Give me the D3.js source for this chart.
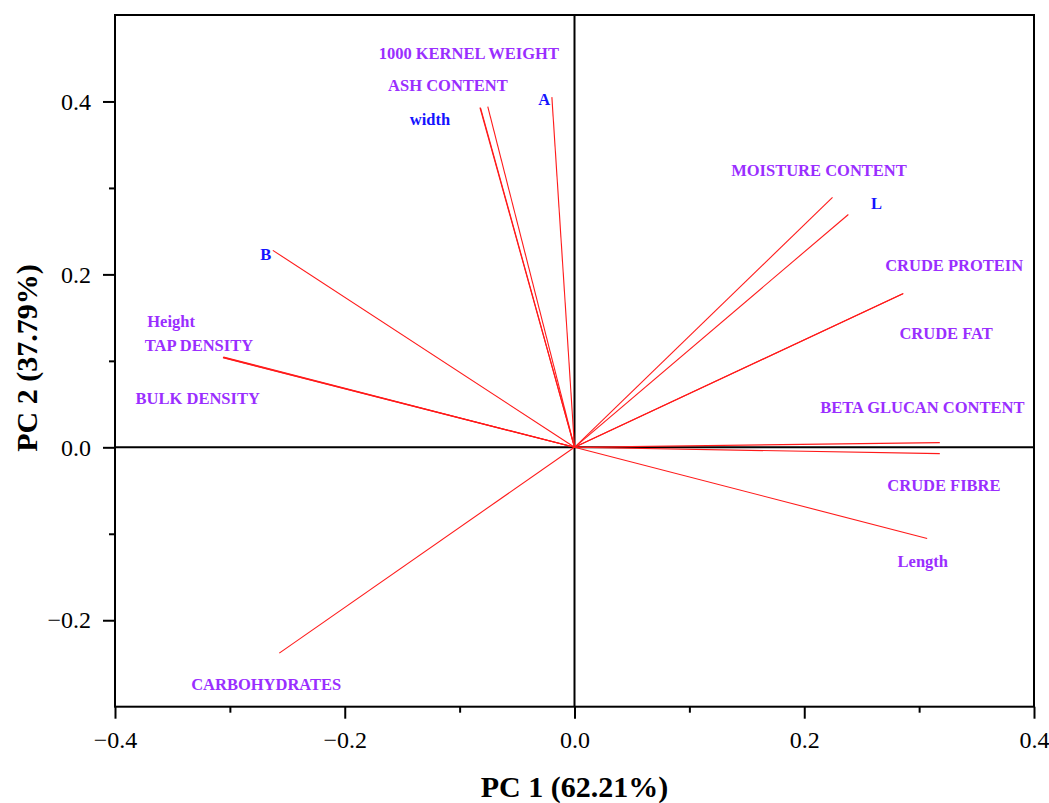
<!DOCTYPE html>
<html>
<head>
<meta charset="utf-8">
<script src="https://cdn.jsdelivr.net/npm/d3@7"></script>
<style>
  html, body { margin: 0; padding: 0; background: #fff; }
  svg { display: block; }
</style>
</head>
<body>
<svg id="chart" width="1049" height="803"></svg>
<script>
// ---- Data (loadings) ----
const variables = ["A", "1000 KERNEL WEIGHT", "width", "ASH CONTENT", "B",
  "Height", "TAP DENSITY", "BULK DENSITY", "CARBOHYDRATES",
  "MOISTURE CONTENT", "L", "CRUDE PROTEIN", "CRUDE FAT",
  "BETA GLUCAN CONTENT", "CRUDE FIBRE", "Length"];
const pc1 = [-0.0197, -0.0823, -0.0818, -0.0755, -0.2626,
  -0.306, -0.3055, -0.306, -0.257,
  0.2246, 0.2384, 0.2863, 0.2858,
  0.318, 0.318, 0.307];
const pc2 = [0.405, 0.393, 0.3925, 0.394, 0.2278,
  0.104, 0.1045, 0.1035, -0.238,
  0.289, 0.2693, 0.178, 0.1775,
  0.0054, -0.0073, -0.1054];
// label anchor (centre) positions in PC units
const labelPC1 = [-0.0264, -0.092, -0.1258, -0.1102, -0.2687,
  -0.3512, -0.3269, -0.328, -0.2684,
  0.2128, 0.2629, 0.3305, 0.3235,
  0.3028, 0.3216, 0.3032];
const labelPC2 = [0.4027, 0.456, 0.3796, 0.4184, 0.223,
  0.1453, 0.1184, 0.0564, -0.274,
  0.3205, 0.2822, 0.2105, 0.1317,
  0.046, -0.0438, -0.1312];
const labelGroup = ["blue", "purple", "blue", "purple", "blue",
  "purple", "purple", "purple", "purple",
  "purple", "blue", "purple", "purple",
  "purple", "purple", "purple"];
const xTicks = [-0.4, -0.2, 0.0, 0.2, 0.4];
const xMinorTicks = [-0.3, -0.1, 0.1, 0.3];
const yTicks = [-0.2, 0.0, 0.2, 0.4];
const yMinorTicks = [-0.1, 0.1, 0.3];
const xTitle = "PC 1 (62.21%)";
const yTitle = "PC 2 (37.79%)";

// ---- Layout ----
const L = 115, R = 1034, T = 15, B = 706.7;
const svg = d3.select("#chart");
const x = d3.scaleLinear().domain([-0.4, 0.4]).range([L, R]);
const y = d3.scaleLinear().domain([-0.3, 0.5]).range([B, T]);
const fmt = d3.format(".1f");
const serif = "'Liberation Serif', 'Times New Roman', serif";
const colors = { blue: "#1414ff", purple: "#9a2eff" };

// zero lines
svg.append("line").attr("x1", x(0)).attr("x2", x(0)).attr("y1", T).attr("y2", B)
  .attr("stroke", "#000").attr("stroke-width", 2);
svg.append("line").attr("x1", L).attr("x2", R).attr("y1", y(0)).attr("y2", y(0))
  .attr("stroke", "#000").attr("stroke-width", 2);

// loading vectors
const idx = d3.range(variables.length);
svg.append("g").selectAll("line").data(idx).join("line")
  .attr("x1", x(0)).attr("y1", y(0))
  .attr("x2", i => x(pc1[i])).attr("y2", i => y(pc2[i]))
  .attr("stroke", "#ff1a1a").attr("stroke-width", 1.1);

// labels
svg.append("g").selectAll("text").data(idx).join("text")
  .attr("x", i => x(labelPC1[i])).attr("y", i => y(labelPC2[i]))
  .attr("dy", "0.35em")
  .attr("text-anchor", "middle")
  .attr("font-family", serif).attr("font-weight", "bold").attr("font-size", 16.5)
  .attr("fill", i => colors[labelGroup[i]])
  .text(i => variables[i]);

// frame
svg.append("rect").attr("x", L).attr("y", T).attr("width", R - L).attr("height", B - T)
  .attr("fill", "none").attr("stroke", "#000").attr("stroke-width", 2);

// axes
svg.append("g").attr("transform", `translate(0,${B})`)
  .call(d3.axisBottom(x).tickValues(xTicks).tickFormat(fmt).tickSize(12).tickPadding(12));
svg.append("g").attr("transform", `translate(${L},0)`)
  .call(d3.axisLeft(y).tickValues(yTicks).tickFormat(fmt).tickSize(12).tickPadding(12));
svg.append("g").attr("transform", `translate(0,${B})`)
  .call(d3.axisBottom(x).tickValues(xMinorTicks).tickFormat("").tickSize(6));
svg.append("g").attr("transform", `translate(${L},0)`)
  .call(d3.axisLeft(y).tickValues(yMinorTicks).tickFormat("").tickSize(6));
svg.selectAll(".domain").remove();
svg.selectAll(".tick line").attr("stroke", "#000").attr("stroke-width", 2);
svg.selectAll(".tick text").attr("font-family", serif).attr("font-size", 24).attr("fill", "#000");

// titles
svg.append("text").attr("x", x(0)).attr("y", 797).attr("text-anchor", "middle")
  .attr("font-family", serif).attr("font-weight", "bold").attr("font-size", 30)
  .text(xTitle);
svg.append("text").attr("transform", `translate(37,358) rotate(-90)`).attr("text-anchor", "middle")
  .attr("font-family", serif).attr("font-weight", "bold").attr("font-size", 30)
  .text(yTitle);
</script>
</body>
</html>
